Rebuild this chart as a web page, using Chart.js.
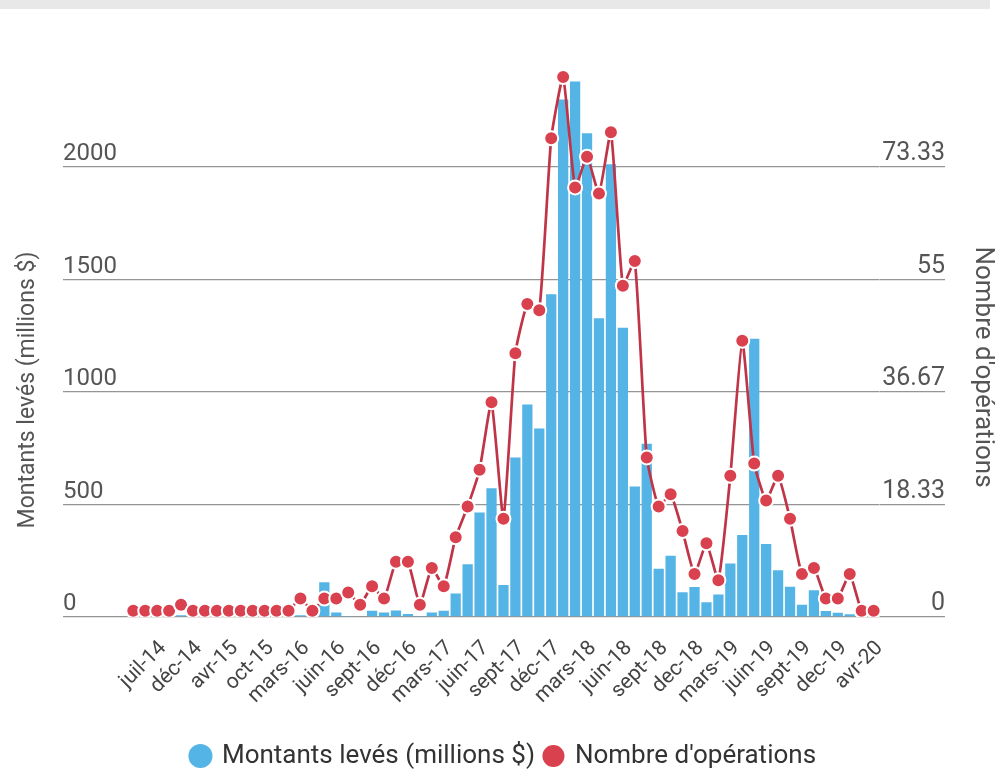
<!DOCTYPE html>
<html>
<head>
<meta charset="utf-8">
<script src="https://cdn.jsdelivr.net/npm/chart.js@4.4.0/dist/chart.umd.min.js"></script>
<style>
  html, body { margin: 0; padding: 0; background: #fff; }
  #bande { position: absolute; left: 0; top: 0; width: 990px; height: 9px; background: #e8e8e8; }
  #cadre { position: absolute; left: 0; top: 0; width: 997px; height: 771px; }
</style>
</head>
<body>
<div id="bande"></div>
<div id="cadre"><canvas id="graphique"></canvas></div>
<script>
// mois (une étiquette sur trois est affichée)
let mois = [
    'mai-14', 'juin-14', 'juil-14', 'sept-14', 'oct-14', 'déc-14', 'janv-15', 'févr-15', 'avr-15',
    'juin-15', 'août-15', 'oct-15', 'déc-15', 'janv-16', 'mars-16', 'avr-16', 'mai-16', 'juin-16',
    'juil-16', 'août-16', 'sept-16', 'oct-16', 'nov-16', 'déc-16', 'janv-17', 'févr-17', 'mars-17',
    'avr-17', 'mai-17', 'juin-17', 'juil-17', 'août-17', 'sept-17', 'oct-17', 'nov-17', 'déc-17',
    'janv-18', 'févr-18', 'mars-18', 'avr-18', 'mai-18', 'juin-18', 'juil-18', 'août-18', 'sept-18',
    'oct-18', 'nov-18', 'dec-18', 'janv-19', 'févr-19', 'mars-19', 'avr-19', 'mai-19', 'juin-19',
    'juil-19', 'août-19', 'sept-19', 'oct-19', 'nov-19', 'dec-19', 'janv-20', 'mars-20', 'avr-20'
];

// montants levés (millions $)
let montants = [
    0, 0, 0, 0, 8, 0, 0, 0, 0,
    0, 0, 0, 0, 0, 8, 0, 155, 20,
    5, 3, 28, 20, 29, 13, 4, 20, 28,
    105, 235, 464, 572, 142, 709, 945, 838, 1435,
    2300, 2380, 2150, 1328, 2012, 1286, 580, 770, 214,
    272, 110, 133, 66, 100, 238, 365, 1237, 324,
    208, 134, 55, 119, 27, 19, 12, 3, 2
];

// nombre d'opérations
let operations = [
    1, 1, 1, 1, 2, 1, 1, 1, 1,
    1, 1, 1, 1, 1, 3, 1, 3, 3,
    4, 2, 5, 3, 9, 9, 2, 8, 5,
    13, 18, 24, 35, 16, 43, 51, 50, 78,
    88, 70, 75, 69, 79, 54, 58, 26, 18,
    20, 14, 7, 12, 6, 23, 45, 25, 19,
    23, 16, 7, 8, 3, 3, 7, 1, 1
];

let ticksGauche = [0, 500, 1000, 1500, 2000];
let ticksDroite = [0, 18.33, 36.67, 55, 73.33];

let titreGauche = 'Montants levés (millions $)';
let titreDroite = "Nombre d'opérations";

const maxGauche = 2500;
const maxDroite = maxGauche * 110 / 3000;

const titresAxes = {
    id: 'titresAxes',
    afterDraw(chart) {
        let ctx = chart.ctx;
        ctx.save();
        ctx.font = '23px Roboto';
        ctx.fillStyle = '#555';
        ctx.textAlign = 'center';
        ctx.textBaseline = 'middle';
        ctx.translate(28, 390);
        ctx.rotate(-Math.PI / 2);
        ctx.fillText(titreGauche, 0, 0);
        ctx.restore();

        ctx.save();
        ctx.font = '26px Roboto';
        ctx.fillStyle = '#555';
        ctx.textAlign = 'center';
        ctx.textBaseline = 'middle';
        ctx.translate(982, 367);
        ctx.rotate(Math.PI / 2);
        ctx.fillText(titreDroite, 0, 0);
        ctx.restore();
    }
};

let config = {
    type: 'bar',
    data: {
        labels: mois,
        datasets: [{
            type: 'bar',
            label: 'Montants levés (millions $)',
            data: montants,
            yAxisID: 'y',
            backgroundColor: '#55b4e6',
            barPercentage: 0.86,
            categoryPercentage: 1,
            order: 2
        }, {
            type: 'line',
            label: "Nombre d'opérations",
            data: operations,
            yAxisID: 'y1',
            borderColor: '#c03447',
            borderWidth: 2.7,
            tension: 0.15,
            pointRadius: 7,
            pointBorderWidth: 2,
            pointBorderColor: '#fff',
            pointBackgroundColor: '#d9414e',
            backgroundColor: '#d9414e',
            order: 1
        }]
    },
    options: {
        responsive: true,
        maintainAspectRatio: false,
        animation: false,
        layout: {
            padding: { top: 54.5, left: 63, right: 52, bottom: -8 }
        },
        plugins: {
            tooltip: { enabled: false },
            legend: {
                position: 'bottom',
                labels: {
                    usePointStyle: true,
                    pointStyle: 'circle',
                    boxWidth: 17,
                    boxHeight: 17,
                    padding: 10,
                    color: '#333',
                    font: { family: 'Roboto', size: 26 },
                    sort: (a, b) => a.datasetIndex - b.datasetIndex
                }
            }
        },
        scales: {
            x: {
                offset: true,
                grid: { display: false },
                border: { display: false },
                ticks: {
                    autoSkip: false,
                    minRotation: 45,
                    maxRotation: 45,
                    padding: 11,
                    labelOffset: 6,
                    color: '#444',
                    font: { family: 'Roboto', size: 21 },
                    callback: (val, i) => i % 3 === 2 ? mois[i] : ''
                },
                afterFit: s => { s.height = 116; }
            },
            y: {
                position: 'left',
                min: 0,
                max: maxGauche,
                afterBuildTicks: s => { s.ticks = ticksGauche.map(v => ({ value: v })); },
                afterFit: s => { s.width = 64.3; },
                grid: { color: '#959595', tickLength: 64.3, lineWidth: 1.3 },
                border: { display: false },
                ticks: {
                    crossAlign: 'far',
                    labelOffset: -13,
                    padding: 0,
                    color: '#555',
                    font: { family: 'Roboto', size: 24 },
                    callback: v => String(v)
                }
            },
            y1: {
                position: 'right',
                min: 0,
                max: maxDroite,
                afterBuildTicks: s => { s.ticks = ticksDroite.map(v => ({ value: v })); },
                afterFit: s => { s.width = 65.4; },
                grid: { drawOnChartArea: false, color: '#959595', tickLength: 65.4, lineWidth: 1.3 },
                border: { display: false },
                ticks: {
                    crossAlign: 'far',
                    labelOffset: -13,
                    padding: 0,
                    color: '#555',
                    font: { family: 'Roboto', size: 25 },
                    callback: v => String(Math.round(v * 100) / 100)
                }
            }
        }
    },
    plugins: [titresAxes]
};

let ctx = document.getElementById('graphique').getContext('2d');
let monGraphique = new Chart(ctx, config);
</script>
</body>
</html>
